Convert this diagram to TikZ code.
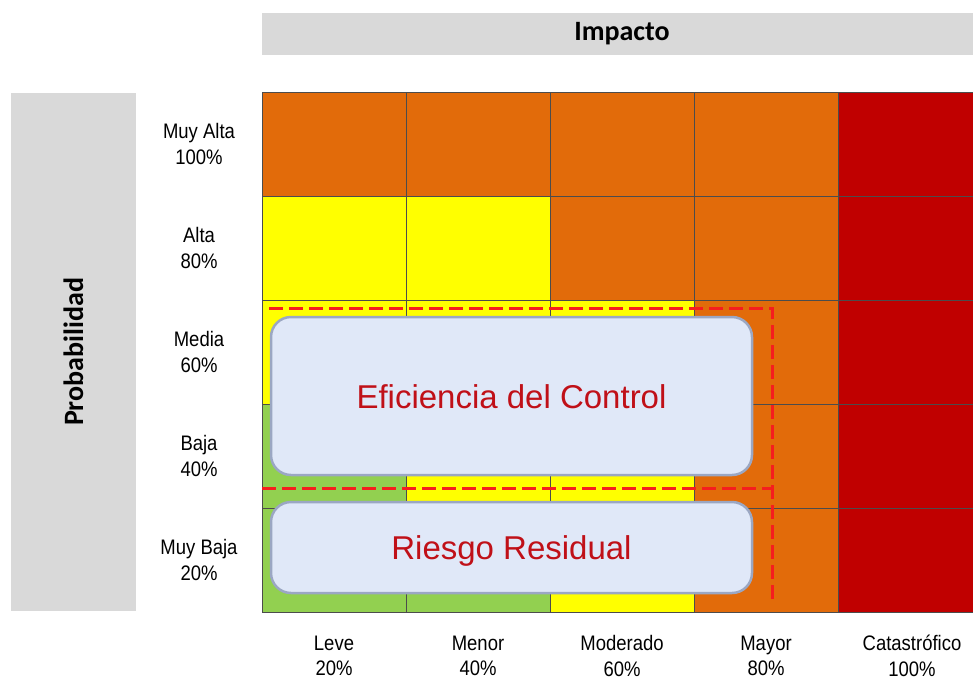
\documentclass[tikz,border=0pt]{standalone}
\usepackage{fontspec}
\setmainfont{Liberation Sans}
\newfontfamily\headfont{Carlito}
\newfontfamily\labelfont[FakeStretch=0.88]{Liberation Sans}
\definecolor{riskorange}{RGB}{226,107,10}
\definecolor{riskred}{RGB}{192,0,0}
\definecolor{riskyellow}{RGB}{255,255,0}
\definecolor{riskgreen}{RGB}{146,208,80}
\definecolor{bargray}{RGB}{217,217,217}
\definecolor{boxfill}{RGB}{224,232,248}
\definecolor{boxline}{RGB}{155,167,195}
\definecolor{boxtext}{RGB}{192,16,24}
\definecolor{limitred}{RGB}{245,30,30}

\begin{document}
\begin{tikzpicture}
[x=1pt, y=-1pt, line width=1pt,
cell/.style={rectangle, draw=black!70, inner sep=0pt, minimum width=144pt, minimum height=104pt},
O/.style={cell, fill=riskorange},
R/.style={cell, fill=riskred},
Y/.style={cell, fill=riskyellow},
G/.style={cell, fill=riskgreen},
bar/.style={rectangle, fill=bargray, inner sep=0pt, font=\headfont\bfseries\fontsize{28}{34}\selectfont},
label/.style={align=center, inner sep=0pt, font=\labelfont\fontsize{21}{25.5}\selectfont, execute at begin node={\rule{0pt}{21pt}}},
box/.style={rectangle, rounded corners=20pt, draw=boxline, line width=2.5pt, fill=boxfill, inner sep=0pt, minimum width=481pt, text=boxtext, text height=24pt, text depth=0pt, font=\fontsize{33}{40}\selectfont},
limit/.style={draw=limitred, line width=3pt, dash pattern=on 14pt off 6pt}]

\clip (0,0) rectangle (973,681);

\node[bar, minimum width=720pt, minimum height=42pt] (impacto) at (622,34) {Impacto};
\node[bar, rotate=90, minimum width=518pt, minimum height=125pt] (probabilidad) at (73.5,352) {Probabilidad};

% Muy Alta
\node[O] (c11) at (334,144) {};
\node[O] (c12) at (478,144) {};
\node[O] (c13) at (622,144) {};
\node[O] (c14) at (766,144) {};
\node[R] (c15) at (910,144) {};
% Alta
\node[Y] (c21) at (334,248) {};
\node[Y] (c22) at (478,248) {};
\node[O] (c23) at (622,248) {};
\node[O] (c24) at (766,248) {};
\node[R] (c25) at (910,248) {};
% Media
\node[Y] (c31) at (334,352) {};
\node[Y] (c32) at (478,352) {};
\node[Y] (c33) at (622,352) {};
\node[O] (c34) at (766,352) {};
\node[R] (c35) at (910,352) {};
% Baja
\node[G] (c41) at (334,456) {};
\node[Y] (c42) at (478,456) {};
\node[Y] (c43) at (622,456) {};
\node[O] (c44) at (766,456) {};
\node[R] (c45) at (910,456) {};
% Muy Baja
\node[G] (c51) at (334,560) {};
\node[G] (c52) at (478,560) {};
\node[Y] (c53) at (622,560) {};
\node[O] (c54) at (766,560) {};
\node[R] (c55) at (910,560) {};

\coordinate (lim1) at (269,308);
\coordinate (lim2) at (772,308);
\coordinate (lim3) at (772,605);
\coordinate (lim4) at (262,488);
\coordinate (lim5) at (772,488);
\draw[limit] (lim1) -- (lim2) -- (lim3);
\draw[limit] (lim4) -- (lim5);

\node[box, minimum height=158pt] (eficiencia) at (511.5,396) {Eficiencia del Control};
\node[box, minimum height=91pt] (residual) at (511.5,547.5) {Riesgo Residual};

\node[label] (p5) at (199,144) {Muy Alta\\100\%};
\node[label] (p4) at (199,248) {Alta\\80\%};
\node[label] (p3) at (199,352) {Media\\60\%};
\node[label] (p2) at (199,456) {Baja\\40\%};
\node[label] (p1) at (199,560) {Muy Baja\\20\%};

\node[label] (i1) at (334,656) {Leve\\20\%};
\node[label] (i2) at (478,656) {Menor\\40\%};
\node[label] (i3) at (622,656) {Moderado\\60\%};
\node[label] (i4) at (766,656) {Mayor\\80\%};
\node[label] (i5) at (912,656) {Catastrófico\\100\%};
\end{tikzpicture}
\end{document}
